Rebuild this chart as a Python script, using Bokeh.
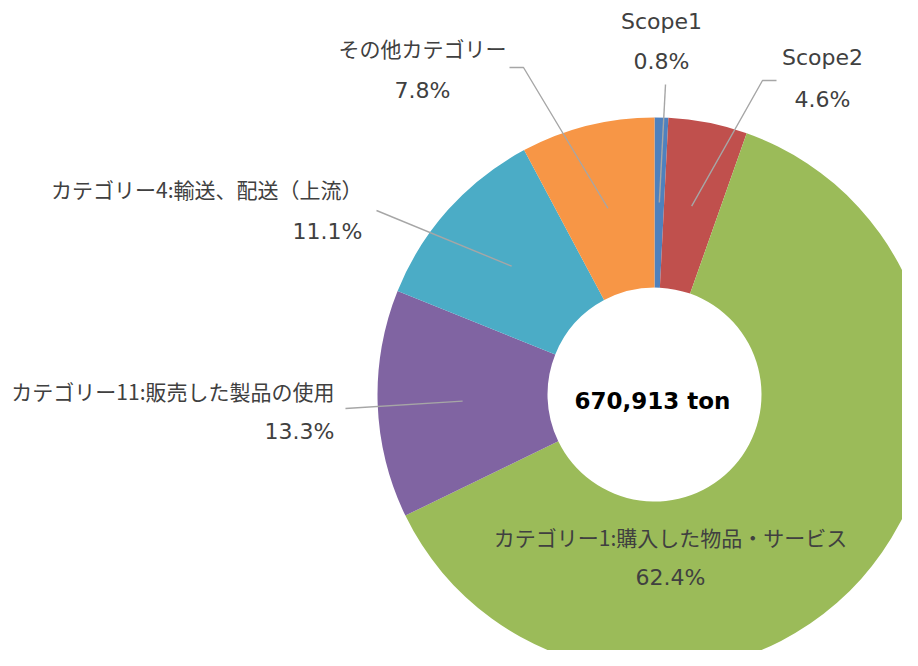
import math
from bokeh.plotting import figure
from bokeh.models import Range1d
from bokeh.core.properties import value
from bokeh.embed import file_html
from bokeh.resources import INLINE

# ---------------- data ----------------
categories = ["Scope1", "Scope2", "カテゴリー1:購入した物品・サービス",
              "カテゴリー11:販売した製品の使用", "カテゴリー4:輸送、配送（上流）",
              "その他カテゴリー"]
shares = [0.8, 4.6, 62.4, 13.3, 11.1, 7.8]
pct_labels = ["0.8%", "4.6%", "62.4%", "13.3%", "11.1%", "7.8%"]
total_label = "670,913 ton"

# ---------------- style / layout ----------------
colors = ["#4F81BD", "#C0504D", "#9BBB59", "#8064A2", "#4BACC6", "#F79646"]
W, H = 902, 650
CX, CY = 654, -394          # px (y negated)
R_OUT, R_IN = 277, 107
R_LEAD = 192
TEXT_COLOR = "#404040"
LEAD_COLOR = "#A6A6A6"
LATIN_FONT = "DejaVu Sans"
CJK_FONT = "Noto Sans CJK JP"

# label layout: x, y(name), y(pct), align, leader elbow points (px)
layout = [
    dict(x=661, y1=21, y2=61, align="center", elbow=[(665, 84)]),
    dict(x=822, y1=57, y2=99, align="center", elbow=[(762, 80), (776, 80)]),
    dict(x=670, y1=536, y2=577, align="center", elbow=None),
    dict(x=334, y1=390, y2=431, align="right", elbow=[(345, 408)]),
    dict(x=362, y1=188, y2=231, align="right", elbow=[(376, 210)]),
    dict(x=422, y1=47, y2=90, align="center", elbow=[(523, 67), (509, 67)]),
]

p = figure(width=W, height=H, output_backend="svg", toolbar_location=None,
           x_range=Range1d(0, W), y_range=Range1d(-H, 0),
           x_axis_location=None, y_axis_location=None, min_border=0,
           outline_line_color=None, background_fill_color="white",
           border_fill_color="white")
p.grid.visible = False

total = sum(shares)
starts, ends, mids = [], [], []
cum = 0.0
for s in shares:
    a0 = math.pi / 2 - 2 * math.pi * cum / total
    a1 = math.pi / 2 - 2 * math.pi * (cum + s) / total
    starts.append(a0)
    ends.append(a1)
    mids.append((a0 + a1) / 2)
    cum += s

p.annular_wedge(x=[CX] * len(shares), y=[CY] * len(shares),
                inner_radius=R_IN, outer_radius=R_OUT,
                start_angle=starts, end_angle=ends, direction="clock",
                fill_color=colors, line_color=None)

# leader lines
for m, lay in zip(mids, layout):
    if not lay["elbow"]:
        continue
    xs = [CX + R_LEAD * math.cos(m)]
    ys = [CY + R_LEAD * math.sin(m)]
    for ex, ey in lay["elbow"]:
        xs.append(ex)
        ys.append(-ey)
    p.line(xs, ys, line_color=LEAD_COLOR, line_width=1.4)

# labels
for name, pct, lay in zip(categories, pct_labels, layout):
    is_latin = all(ord(c) < 128 for c in name)
    p.text(x=[lay["x"]], y=[-lay["y1"]], text=[name],
           text_align=lay["align"], text_baseline="middle",
           text_font=value(LATIN_FONT if is_latin else CJK_FONT),
           text_font_size="22px" if is_latin else "21px",
           text_color=TEXT_COLOR)
    p.text(x=[lay["x"]], y=[-lay["y2"]], text=[pct],
           text_align=lay["align"], text_baseline="middle",
           text_font=value(LATIN_FONT), text_font_size="22px",
           text_color=TEXT_COLOR)

p.text(x=[652], y=[-400], text=[total_label], text_align="center",
       text_baseline="middle", text_font=value(LATIN_FONT),
       text_font_size="23px", text_font_style="bold", text_color="#000000")

open("out.html", "w").write(file_html(p, INLINE))
